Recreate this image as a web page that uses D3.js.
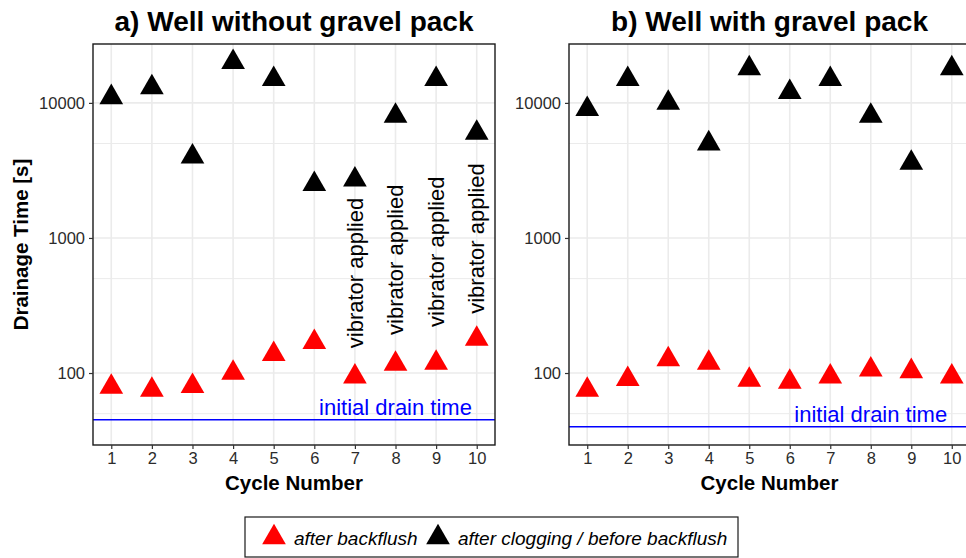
<!doctype html>
<html lang="en">
<head>
<meta charset="utf-8">
<title>Drainage Time per Cycle</title>
<script src="https://d3js.org/d3.v7.min.js"></script>
<style>
  body { margin: 0; background: #fff; }
  text { font-family: "Liberation Sans", Arial, Helvetica, sans-serif; }
</style>
</head>
<body>
<svg width="966" height="558"></svg>
<script>
    // values
    var cycles = [1, 2, 3, 4, 5, 6, 7, 8, 9, 10];
    var panelTitles = ["a) Well without gravel pack", "b) Well with gravel pack"];
    var cloggedA = [11000, 13000, 4000, 20000, 15000, 2500, 2700, 8000, 15000, 6000];
    var flushedA = [79, 75, 80, 100, 138, 169, 94, 117, 119, 179];
    var cloggedB = [9000, 15000, 10000, 5000, 18000, 12000, 15000, 8000, 3600, 18000];
    var flushedB = [75, 90, 126, 119, 89, 86, 94, 106, 103, 94];
    var initialDrain = [45, 40];
    var yTicks = [100, 1000, 10000];
    var yMinor = [50, 500, 5000];
    var vibratorCycles = [7, 8, 9, 10];
    var vibratorY = [550, 690, 790, 990];
    var legendLabels = ["after backflush", "after clogging / before backflush"];

    var svg = d3.select("svg");
    var top_ = 44, bottom = 445;
    var panels = [
        { left: 93, right: 495, clogged: cloggedA, flushed: flushedA, line: initialDrain[0], title: panelTitles[0], vib: true },
        { left: 569, right: 970, clogged: cloggedB, flushed: flushedB, line: initialDrain[1], title: panelTitles[1], vib: false }
    ];

    // shared log y scale, 5% expansion in log space like ggplot
    var allVals = cloggedA.concat(cloggedB, flushedA, flushedB, initialDrain);
    var lo = Math.log10(d3.min(allVals)), hi = Math.log10(d3.max(allVals));
    var pad = (hi - lo) * 0.05;
    var y = d3.scaleLog().domain([Math.pow(10, lo - pad), Math.pow(10, hi + pad)]).range([bottom, top_]);

    var tri = d3.symbol().type(d3.symbolTriangle).size(243);

    panels.forEach(function(p, pi) {
        var x = d3.scaleLinear().domain([0.55, 10.45]).range([p.left, p.right]);
        var g = svg.append("g");

        // grid
        g.selectAll(".minor").data(yMinor).enter().append("line")
            .attr("x1", p.left).attr("x2", p.right)
            .attr("y1", function(d) { return y(d); }).attr("y2", function(d) { return y(d); })
            .attr("stroke", "#ebebeb").attr("stroke-width", 1);
        g.selectAll(".major").data(yTicks).enter().append("line")
            .attr("x1", p.left).attr("x2", p.right)
            .attr("y1", function(d) { return y(d); }).attr("y2", function(d) { return y(d); })
            .attr("stroke", "#ebebeb").attr("stroke-width", 1.6);
        g.selectAll(".vgrid").data(cycles).enter().append("line")
            .attr("x1", function(d) { return x(d); }).attr("x2", function(d) { return x(d); })
            .attr("y1", top_).attr("y2", bottom)
            .attr("stroke", "#ebebeb").attr("stroke-width", 1.6);

        // initial drain time
        g.append("line")
            .attr("x1", p.left).attr("x2", p.right)
            .attr("y1", y(p.line)).attr("y2", y(p.line))
            .attr("stroke", "#0000ff").attr("stroke-width", 1.5);
        g.append("text")
            .attr("x", x(8)).attr("y", y(p.line) - 5)
            .attr("text-anchor", "middle")
            .style("font-size", "22px").style("fill", "#0000ff")
            .text("initial drain time");

        // points
        g.selectAll(".clog").data(p.clogged).enter().append("path")
            .attr("d", tri)
            .attr("transform", function(d, i) { return "translate(" + x(cycles[i]) + "," + y(d) + ")"; })
            .attr("fill", "#000");
        g.selectAll(".flush").data(p.flushed).enter().append("path")
            .attr("d", tri)
            .attr("transform", function(d, i) { return "translate(" + x(cycles[i]) + "," + y(d) + ")"; })
            .attr("fill", "#ff0000");

        if (p.vib) {
            g.selectAll(".vib").data(vibratorCycles).enter().append("text")
                .attr("transform", function(d, i) { return "translate(" + x(d) + "," + y(vibratorY[i]) + ") rotate(-90)"; })
                .attr("text-anchor", "middle")
                .attr("dy", "0.35em")
                .style("font-size", "22px").style("fill", "#000")
                .text("vibrator applied");
        }

        // border
        g.append("rect")
            .attr("x", p.left).attr("y", top_)
            .attr("width", p.right - p.left).attr("height", bottom - top_)
            .attr("fill", "none").attr("stroke", "#1a1a1a").attr("stroke-width", 1.4);

        // axes
        var ax = g.append("g")
            .attr("transform", "translate(0," + bottom + ")")
            .call(d3.axisBottom(x).tickValues(cycles).tickSize(4).tickSizeOuter(0).tickPadding(3).tickFormat(d3.format("d")));
        var ay = g.append("g")
            .attr("transform", "translate(" + p.left + ",0)")
            .call(d3.axisLeft(y).tickValues(yTicks).tickSize(4).tickSizeOuter(0).tickPadding(4).tickFormat(d3.format("d")));
        [ax, ay].forEach(function(a) {
            a.select(".domain").remove();
            a.selectAll("line").attr("stroke", "#333").attr("stroke-width", 1.2);
            a.selectAll("text").style("font-size", "16.5px").style("fill", "#2b2b2b")
                .style("font-family", "\"Liberation Sans\", Arial, sans-serif");
        });

        // titles
        g.append("text")
            .attr("x", (p.left + p.right) / 2).attr("y", 31)
            .attr("text-anchor", "middle")
            .style("font-size", "28px").style("font-weight", "bold")
            .text(p.title);
        g.append("text")
            .attr("x", (p.left + p.right) / 2).attr("y", 490)
            .attr("text-anchor", "middle")
            .style("font-size", "20.5px").style("font-weight", "bold")
            .text("Cycle Number");
    });

    // y axis title (left panel only)
    svg.append("text")
        .attr("transform", "translate(28," + (top_ + bottom) / 2 + ") rotate(-90)")
        .attr("text-anchor", "middle")
        .style("font-size", "20.5px").style("font-weight", "bold")
        .text("Drainage Time [s]");

    // legend
    var leg = svg.append("g");
    leg.append("rect")
        .attr("x", 245).attr("y", 517).attr("width", 493).attr("height", 40)
        .attr("fill", "#fff").attr("stroke", "#1a1a1a").attr("stroke-width", 1.2);
    var legColors = ["#ff0000", "#000"];
    var legX = [274, 438];
    legColors.forEach(function(c, i) {
        leg.append("path").attr("d", tri)
            .attr("transform", "translate(" + legX[i] + ",537.5)")
            .attr("fill", c);
        leg.append("text")
            .attr("x", legX[i] + 20).attr("y", 545)
            .style("font-size", "19px").style("font-style", "italic")
            .text(legendLabels[i]);
    });
</script>
</body>
</html>
